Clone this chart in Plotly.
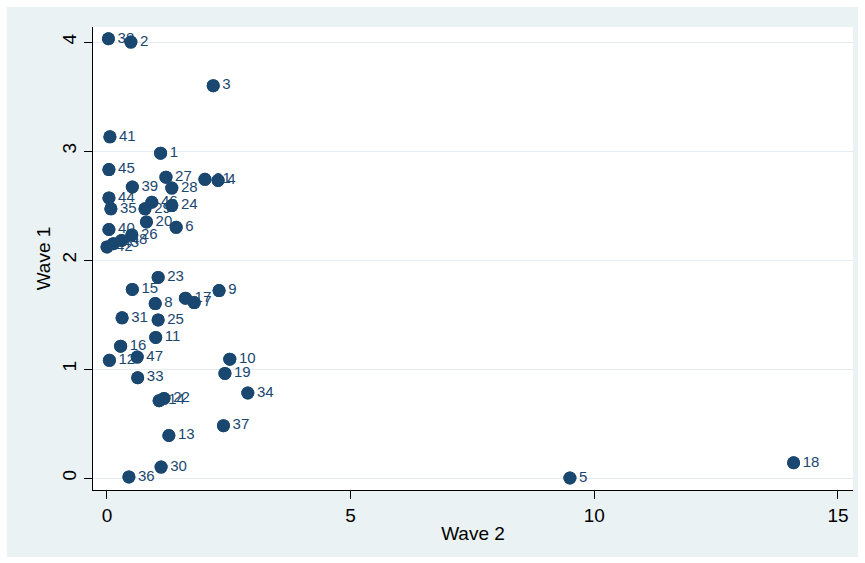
import plotly.graph_objects as go

# Unit identifiers and their scores in each wave
ids = [1, 2, 3, 4, 5, 6, 7, 8, 9, 10, 11, 12, 13, 14, 15, 16, 17, 18, 19, 20,
       21, 22, 23, 24, 25, 26, 27, 28, 29, 30, 31, 33, 34, 35, 36, 37, 38, 39,
       40, 41, 42, 43, 44, 45, 46, 47, 48]
wave2 = [1.10, 0.49, 2.18, 2.28, 9.50, 1.42, 1.79, 0.99, 2.30, 2.52, 1.00, 0.05,
         1.27, 1.07, 0.52, 0.28, 1.61, 14.09, 2.42, 0.81, 2.01, 1.17, 1.05, 1.33,
         1.05, 0.51, 1.21, 1.33, 0.78, 1.11, 0.31, 0.63, 2.89, 0.08, 0.45, 2.39,
         0.03, 0.52, 0.04, 0.06, 0.00, 0.13, 0.04, 0.04, 0.92, 0.62, 0.30]
wave1 = [2.98, 4.00, 3.60, 2.73, 0.00, 2.30, 1.61, 1.60, 1.72, 1.09, 1.29, 1.08,
         0.39, 0.71, 1.73, 1.21, 1.65, 0.14, 0.96, 2.35, 2.74, 0.73, 1.84, 2.50,
         1.45, 2.23, 2.76, 2.66, 2.47, 0.10, 1.47, 0.92, 0.78, 2.47, 0.01, 0.48,
         4.03, 2.67, 2.28, 3.13, 2.12, 2.15, 2.57, 2.83, 2.53, 1.11, 2.18]

x_ticks = [0, 5, 10, 15]
y_ticks = [0, 1, 2, 3, 4]

navy = "#1a476f"
region_bg = "#eaf2f3"
font_family = "Liberation Sans, Arial, sans-serif"

fig = go.Figure()

# Markers with their id labels to the right
fig.add_trace(go.Scatter(
    x=wave2, y=wave1, mode="markers+text",
    text=[str(i) for i in ids],
    textposition="middle right",
    textfont=dict(family=font_family, size=15, color=navy),
    marker=dict(size=13, color=navy, line=dict(width=0)),
    hoverinfo="skip", showlegend=False,
))
# Markers drawn again so that they sit on top of neighbouring labels
fig.add_trace(go.Scatter(
    x=wave2, y=wave1, mode="markers",
    marker=dict(size=13, color=navy, line=dict(width=0)),
    showlegend=False,
))

# Tinted graph region with a white plot area inside it
fig.add_shape(type="rect", xref="paper", yref="paper",
              x0=-0.1132, x1=1.0066, y0=-0.1447, y1=1.0432,
              fillcolor=region_bg, line=dict(width=0), layer="below")
fig.add_shape(type="rect", xref="paper", yref="paper",
              x0=0, x1=1, y0=0, y1=1,
              fillcolor="white", line=dict(width=0), layer="below")

fig.update_layout(
    width=865, height=563,
    margin=dict(l=93, r=12, t=27, b=73),
    paper_bgcolor="white",
    plot_bgcolor="white",
    font=dict(family=font_family, color="black"),
    xaxis=dict(
        range=[-0.287, 15.309],
        tickvals=x_ticks, ticktext=[str(v) for v in x_ticks],
        ticks="outside", ticklen=8, tickcolor="black", tickwidth=1,
        tickfont=dict(size=19),
        showline=True, linecolor="black", linewidth=1,
        showgrid=False, zeroline=False,
        title=dict(text="Wave 2", font=dict(size=19), standoff=1),
    ),
    yaxis=dict(
        range=[-0.110, 4.138],
        tickvals=y_ticks, ticktext=[str(v) for v in y_ticks],
        tickangle=-90,
        ticks="outside", ticklen=8, tickcolor="black", tickwidth=1,
        tickfont=dict(size=19),
        showline=True, linecolor="black", linewidth=1,
        showgrid=True, gridcolor="#e3edf0", gridwidth=1,
        zeroline=False,
        title=dict(text="Wave 1", font=dict(size=19), standoff=3),
    ),
)

fig.write_html("out.html")
